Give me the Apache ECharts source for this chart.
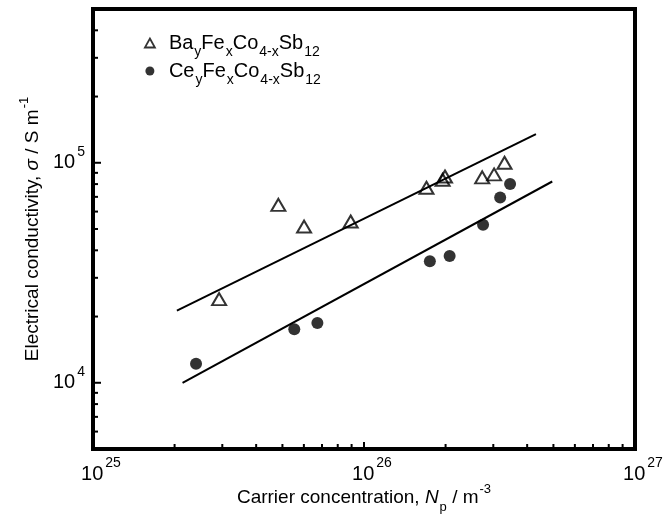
<!DOCTYPE html>
<html><head><meta charset="utf-8">
<script src="https://cdn.jsdelivr.net/npm/echarts@6/dist/echarts.min.js"></script>
<style>html,body{margin:0;padding:0;background:#fff}#c{width:665px;height:518px}</style>
</head><body><div id="c"></div>
<script>
// ---- data ----
const baN     = [2.92e25, 4.83e25, 6.01e25, 8.93e25, 1.70e26, 1.95e26, 1.99e26, 2.73e26, 3.02e26, 3.30e26];
const baSigma = [2.40e4, 6.44e4, 5.13e4, 5.41e4, 7.70e4, 8.37e4, 8.66e4, 8.58e4, 8.85e4, 1.00e5];
const ceN     = [2.40e25, 5.53e25, 6.73e25, 1.75e26, 2.07e26, 2.75e26, 3.18e26, 3.46e26];
const ceSigma = [1.22e4, 1.75e4, 1.87e4, 3.57e4, 3.77e4, 5.23e4, 6.95e4, 8.00e4];
const baFitN     = [2.04e25, 4.31e26];
const baFitSigma = [2.13e4, 1.35e5];
const ceFitN     = [2.14e25, 4.95e26];
const ceFitSigma = [1.00e4, 8.22e4];
const xRange = [1e25, 1e27];
const yRange = [5e3, 5e5];
const xTicksMajor = [1e25, 1e26, 1e27];
const xTicksMinor = [2e25, 3e25, 4e25, 5e25, 6e25, 7e25, 8e25, 9e25, 2e26, 3e26, 4e26, 5e26, 6e26, 7e26, 8e26, 9e26];
const yTicksMajor = [1e4, 1e5];
const yTicksMinor = [6e3, 7e3, 8e3, 9e3, 2e4, 3e4, 4e4, 5e4, 6e4, 7e4, 8e4, 9e4, 2e5, 3e5, 4e5];
const seriesNames = ['Ba', 'Ce'];
const legendLabels = {
  Ba: '{t|Ba}{s|y}{t|Fe}{s|x}{t|Co}{s|4-x}{t|Sb}{s|12}',
  Ce: '{t|Ce}{s|y}{t|Fe}{s|x}{t|Co}{s|4-x}{t|Sb}{s|12}'
};
const xTitle = '{t|Carrier concentration, }{i|N}{s|p}{t| / m}{u|-3}';
const yTitle = '{t|Electrical conductivity, }{i|σ}{t| / S m}{u|-1}';

// ---- build ----
const FONT = '"Liberation Sans", Arial, Helvetica, sans-serif';
const zip = (a, b) => a.map((v, i) => [v, b[i]]);
const tickData = [];
xTicksMinor.forEach(v => tickData.push([v, yRange[0], 0]));
xTicksMajor.forEach(v => tickData.push([v, yRange[0], 1]));
yTicksMinor.forEach(v => tickData.push([xRange[0], v, 2]));
yTicksMajor.forEach(v => tickData.push([xRange[0], v, 3]));

const expLabel = v => '{b|10}{p|' + Math.round(Math.log10(v)) + '}';
const tickRich = {
  b: { fontSize: 20, lineHeight: 22, fontFamily: FONT, color: '#000' },
  p: { fontSize: 14, lineHeight: 14, fontFamily: FONT, color: '#000', padding: [0, 0, 22, 2] }
};
const titleRich = {
  t: { fontSize: 19, lineHeight: 22, fontFamily: FONT, color: '#000' },
  i: { fontSize: 19, lineHeight: 22, fontFamily: FONT, color: '#000', fontStyle: 'italic' },
  s: { fontSize: 13, lineHeight: 14, fontFamily: FONT, color: '#000', padding: [18, 0, 0, 1] },
  u: { fontSize: 13, lineHeight: 14, fontFamily: FONT, color: '#000', padding: [0, 0, 18, 1] }
};
const legendRich = {
  t: { fontSize: 20, lineHeight: 22, fontFamily: FONT, color: '#000' },
  s: { fontSize: 14, lineHeight: 14, fontFamily: FONT, color: '#000', padding: [18, 0, 0, 1] }
};

const chart = echarts.init(document.getElementById('c'), null, { renderer: 'canvas' });
chart.setOption({
  backgroundColor: '#fff',
  animation: false,
  grid: { left: 93, right: 30, top: 9, bottom: 69, show: true, borderColor: '#000', borderWidth: 4,
          backgroundColor: 'transparent', containLabel: false, outerBoundsMode: 'none' },
  legend: {
    orient: 'vertical', left: 139, top: 22, itemGap: -4,
    itemWidth: 10, itemHeight: 9,
    data: [
      { name: 'Ba', icon: 'triangle', itemStyle: { color: 'rgba(0,0,0,0)', borderColor: '#000', borderWidth: 1.8 } },
      { name: 'Ce', icon: 'circle', itemStyle: { color: '#000', borderWidth: 0 } }
    ],
    formatter: n => legendLabels[n],
    textStyle: { rich: legendRich, padding: [0, 0, 0, 9] }
  },
  xAxis: {
    type: 'log', logBase: 10, min: xRange[0], max: xRange[1],
    axisLine: { show: false }, axisTick: { show: false }, splitLine: { show: false }, minorTick: { show: false },
    axisLabel: { margin: 14, formatter: expLabel, rich: tickRich, padding: [0, 0, 0, 16] },
    name: xTitle, nameLocation: 'middle', nameGap: 38, nameMoveOverlap: false,
    nameTextStyle: { rich: titleRich }
  },
  yAxis: {
    type: 'log', logBase: 10, min: yRange[0], max: yRange[1],
    axisLine: { show: false }, axisTick: { show: false }, splitLine: { show: false }, minorTick: { show: false },
    axisLabel: { margin: 8, formatter: expLabel, rich: tickRich, showMinLabel: false, showMaxLabel: false },
    name: yTitle, nameLocation: 'middle', nameGap: 49, nameRotate: 90, nameMoveOverlap: false,
    nameTextStyle: { rich: titleRich }
  },
  series: [
    {
      type: 'custom', name: 'ticks', silent: true, z: 1,
      encode: { x: 0, y: 1 },
      data: tickData,
      renderItem: (params, api) => {
        const k = api.value(2);
        const p = api.coord([api.value(0), api.value(1)]);
        let shape;
        if (k === 0) shape = { x1: p[0], y1: p[1], x2: p[0], y2: p[1] - 5 };
        else if (k === 1) shape = { x1: p[0], y1: p[1], x2: p[0], y2: p[1] - 7 };
        else if (k === 2) shape = { x1: p[0], y1: p[1], x2: p[0] + 5, y2: p[1] };
        else shape = { x1: p[0], y1: p[1], x2: p[0] + 8, y2: p[1] };
        return { type: 'line', shape, style: { stroke: '#000', lineWidth: 2 } };
      }
    },
    {
      type: 'line', name: 'baFit', data: zip(baFitN, baFitSigma), showSymbol: false, symbol: 'none',
      lineStyle: { color: '#000', width: 2 }, z: 2
    },
    {
      type: 'line', name: 'ceFit', data: zip(ceFitN, ceFitSigma), showSymbol: false, symbol: 'none',
      lineStyle: { color: '#000', width: 2 }, z: 2
    },
    {
      type: 'scatter', name: seriesNames[0], data: zip(baN, baSigma), symbol: 'triangle', symbolSize: [14, 12],
      itemStyle: { color: 'rgba(0,0,0,0)', borderColor: '#000', borderWidth: 2 }, z: 3
    },
    {
      type: 'scatter', name: seriesNames[1], data: zip(ceN, ceSigma), symbol: 'circle', symbolSize: 12,
      itemStyle: { color: '#000' }, z: 3
    }
  ]
});
</script>
</body></html>
